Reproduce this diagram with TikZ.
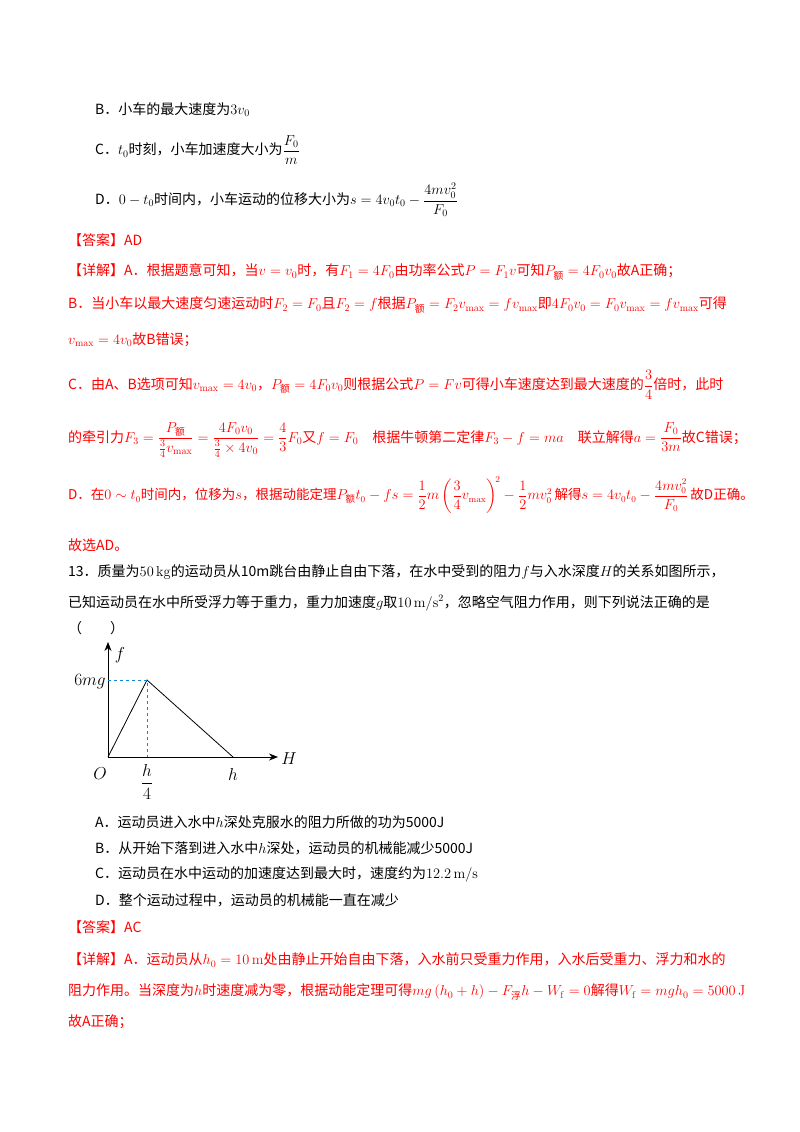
\documentclass[tikz,border=0pt]{standalone}
\usepackage{amsmath}
\usepackage[no-math]{fontspec}
\usetikzlibrary{arrows.meta}
\setmainfont{Noto Sans CJK SC}
\begin{document}
\begin{tikzpicture}[x=1pt,y=-1pt,
  txt/.style={anchor=west,inner sep=0pt,font=\fontsize{14}{16}\selectfont},
  rtxt/.style={txt,text=red},
  lab/.style={inner sep=0pt,font=\fontsize{17}{19}\selectfont}]
\useasboundingbox[fill=white] (0,0) rectangle (800,1132);
\node[txt] (b) at (95,110) {B．小车的最大速度为\(3v_0\)};
\node[txt] (c) at (95,150) {C．\(t_0\)时刻，小车加速度大小为\(\dfrac{F_0}{m}\)};
\node[txt] (d) at (95,200) {D．\(0-t_0\)时间内，小车运动的位移大小为\(s=4v_0t_0-\dfrac{4mv_0^2}{F_0}\)};
\node[rtxt] (ans1) at (68,240) {【答案】AD};
\node[rtxt] (x1) at (68,272) {【详解】A．根据题意可知，当\(v=v_0\)时，有\(F_1=4F_0\)由功率公式\(P=F_1v\)可知\(P_{\text{额}}=4F_0v_0\)故A正确；};
\node[rtxt] (x2) at (68,305) {B．当小车以最大速度匀速运动时\(F_2=F_0\)且\(F_2=f\)根据\(P_{\text{额}}=F_2v_{\max}=fv_{\max}\)即\(4F_0v_0=F_0v_{\max}=fv_{\max}\)可得};
\node[rtxt] (x3) at (68,340) {\(v_{\max}=4v_0\)故B错误；};
\node[rtxt] (x4) at (68,385) {C．由A、B选项可知\(v_{\max}=4v_0\)，\(P_{\text{额}}=4F_0v_0\)则根据公式\(P=Fv\)可得小车速度达到最大速度的\(\dfrac34\)倍时，此时};
\node[rtxt] (x5) at (68,440) {的牵引力\(F_3=\dfrac{P_{\text{额}}}{\frac34v_{\max}}=\dfrac{4F_0v_0}{\frac34\times4v_0}=\dfrac43F_0\)又\(f=F_0\)\quad 根据牛顿第二定律\(F_3-f=ma\)\quad 联立解得\(a=\dfrac{F_0}{3m}\)故C错误；};
\node[rtxt,font=\fontsize{13.5}{16}\selectfont] (x6) at (68,495) {D．在\(0\sim t_0\)时间内，位移为\(s\)，根据动能定理\(P_{\text{额}}t_0-fs=\dfrac12m\left(\dfrac34v_{\max}\right)^{\!2}-\dfrac12mv_0^2\)\,解得\(s=4v_0t_0-\dfrac{4mv_0^2}{F_0}\)\,故D正确。};
\node[rtxt] (x7) at (68,545) {故选AD。};
\node[txt] (q1) at (68,572) {13．质量为\(50\,\mathrm{kg}\)的运动员从10m跳台由静止自由下落，在水中受到的阻力\(f\)与入水深度\(H\)的关系如图所示，};
\node[txt] (q2) at (68,603) {已知运动员在水中所受浮力等于重力，重力加速度\(g\)取\(10\,\mathrm{m/s^2}\)，忽略空气阻力作用，则下列说法正确的是};
\node[txt] (q3) at (68,628) {（\qquad）};
% graph
\coordinate (O) at (108,757);
\coordinate (P) at (147,680);
\coordinate (Hh) at (233,757);
\coordinate (Y) at (108,642);
\coordinate (X) at (278,757);
\draw[-{Stealth[length=9pt,width=7pt]},thick] (O) -- (Y);
\draw[-{Stealth[length=9pt,width=7pt]},thick] (O) -- (X);
\draw[thick] (O) -- (P) -- (Hh);
\draw[dashed,cyan!70!blue,thick] (O |- P) -- (P) -- (P |- O);
\node[lab] (fl) at (120,655) {\(f\)};
\node[lab] (Hl) at (289,759) {\(H\)};
\node[lab] (mg) at (90,682) {\(6mg\)};
\node[lab] (Ol) at (100,774) {\(O\)};
\node[lab] (h4) at (147,782) {\(\dfrac{h}{4}\)};
\node[lab] (hl) at (233,774) {\(h\)};
\node[txt] (oa) at (95,822) {A．运动员进入水中\(h\)深处克服水的阻力所做的功为5000J};
\node[txt] (ob) at (95,848) {B．从开始下落到进入水中\(h\)深处，运动员的机械能减少5000J};
\node[txt] (oc) at (95,874) {C．运动员在水中运动的加速度达到最大时，速度约为\(12.2\,\mathrm{m/s}\)};
\node[txt] (od) at (95,900) {D．整个运动过程中，运动员的机械能一直在减少};
\node[rtxt] (ans2) at (68,927) {【答案】AC};
\node[rtxt] (y1) at (68,960) {【详解】A．运动员从\(h_0=10\,\mathrm{m}\)处由静止开始自由下落，入水前只受重力作用，入水后受重力、浮力和水的};
\node[rtxt] (y2) at (68,992) {阻力作用。当深度为\(h\)时速度减为零，根据动能定理可得\(mg\left(h_0+h\right)-F_{\text{浮}}h-W_{\mathrm f}=0\)解得\(W_{\mathrm f}=mgh_0=5000\,\mathrm J\)};
\node[rtxt] (y3) at (68,1022) {故A正确；};
\end{tikzpicture}
\end{document}
